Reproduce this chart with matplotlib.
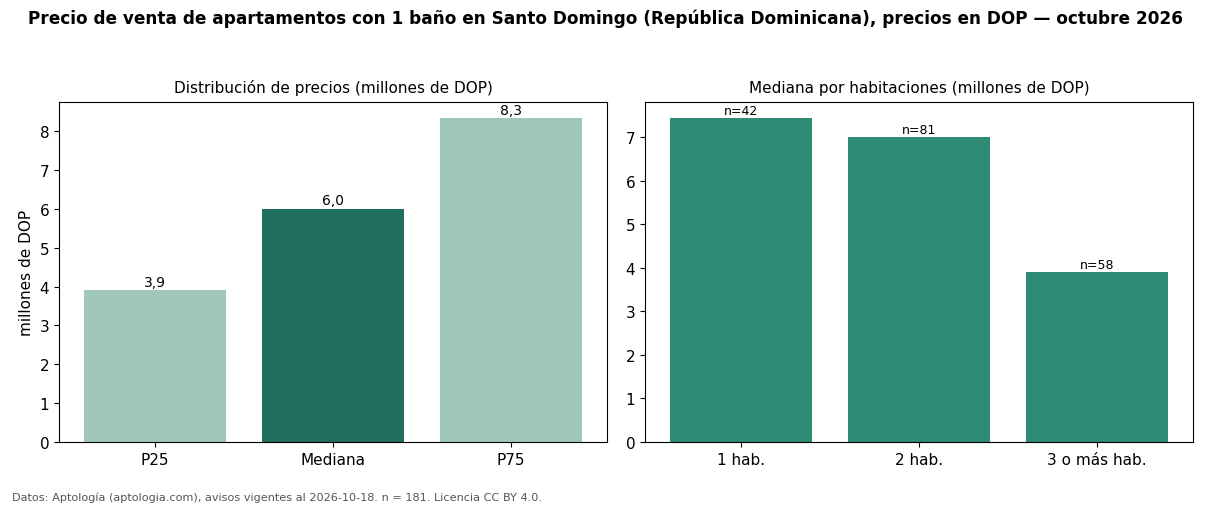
import matplotlib.pyplot as plt

plt.rcParams['font.family'] = ['DejaVu Sans']

# datos
cuartiles = ['P25', 'Mediana', 'P75']
precios = [3.9, 6.0, 8.33]
habitaciones = ['1 hab.', '2 hab.', '3 o más hab.']
medianas_hab = [7.44, 7.0, 3.9]
n_hab = [42, 81, 58]

color_claro = '#9fc8bb'
color_oscuro = '#206e5e'
color_medio = '#2e8b76'

fig = plt.figure(figsize=(12.1, 5.06), dpi=100)
ax1 = fig.add_axes([0.0488, 0.1245, 0.4529, 0.6719])
ax2 = fig.add_axes([0.5331, 0.1245, 0.4529, 0.6719])

# panel izquierdo
bars = ax1.bar(cuartiles, precios, width=0.8,
               color=[color_claro, color_oscuro, color_claro])
for b, v in zip(bars, precios):
    ax1.annotate(f'{v:.1f}'.replace('.', ','), (b.get_x() + b.get_width() / 2, v),
                 xytext=(0, 1), textcoords='offset points',
                 ha='center', va='bottom', fontsize=10)
ax1.set_title('Distribución de precios (millones de DOP)', fontsize=11, pad=7)
ax1.set_ylabel('millones de DOP', fontsize=11)
ax1.tick_params(labelsize=11)

# panel derecho
bars = ax2.bar(habitaciones, medianas_hab, width=0.8, color=color_medio)
for b, v, n in zip(bars, medianas_hab, n_hab):
    ax2.annotate(f'n={n}', (b.get_x() + b.get_width() / 2, v),
                 xytext=(0, 1), textcoords='offset points',
                 ha='center', va='bottom', fontsize=9)
ax2.set_title('Mediana por habitaciones (millones de DOP)', fontsize=11, pad=7)
ax2.tick_params(labelsize=11)

fig.suptitle('Precio de venta de apartamentos con 1 baño en Santo Domingo (República Dominicana), precios en DOP — octubre 2026',
             fontsize=12.15, fontweight='bold', y=0.982)
fig.text(0.01, 0.01, 'Datos: Aptología (aptologia.com), avisos vigentes al 2026-10-18. n = 181. Licencia CC BY 4.0.',
         fontsize=8.15, color='#555555')

fig.savefig('out.png', dpi=100)
